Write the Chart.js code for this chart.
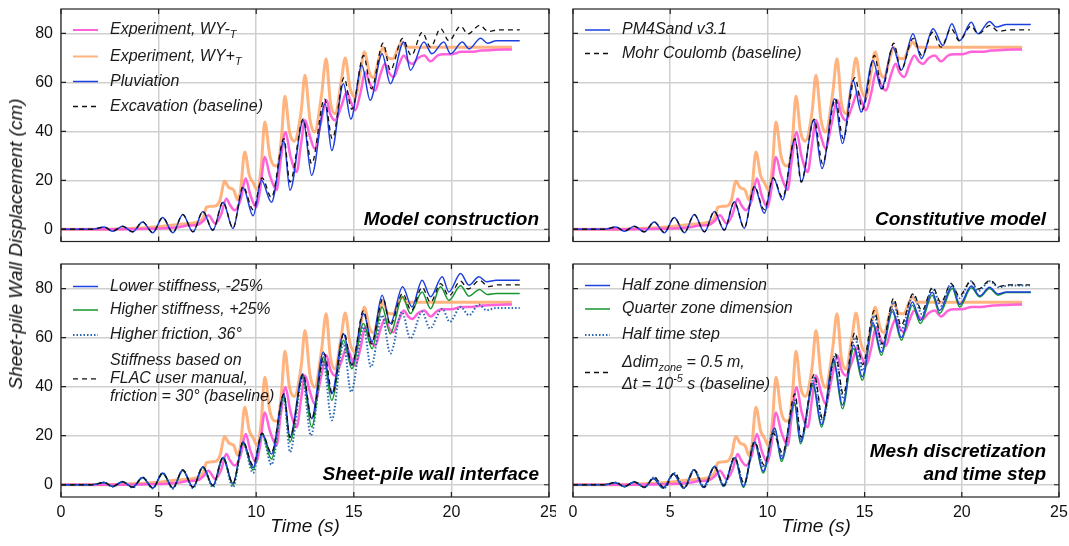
<!DOCTYPE html>
<html>
<head>
<meta charset="utf-8">
<script src="https://cdn.jsdelivr.net/npm/chart.js@4.4.1/dist/chart.umd.min.js"></script>
<style>
  body { margin: 0; background: #fff; width: 1069px; height: 546px; overflow: hidden; position: relative;
         font-family: "Liberation Sans", Arial, sans-serif; }
  canvas { position: absolute; }
  #ytitle { position: absolute; left: 16px; top: 244px; transform: translate(-50%, -50%) rotate(-90deg);
            font-style: italic; font-size: 19px; white-space: nowrap; color: #111; }
</style>
</head>
<body>
<canvas id="c1" width="556" height="250" style="left:0;top:0"></canvas>
<canvas id="c2" width="513" height="250" style="left:556px;top:0"></canvas>
<canvas id="c3" width="556" height="296" style="left:0;top:250px"></canvas>
<canvas id="c4" width="513" height="296" style="left:556px;top:250px"></canvas>
<div id="ytitle">Sheet-pile Wall Displacement (cm)</div>
<script>
// ---- data: [time (s), displacement (cm)] ----
var xTicks = [0, 5, 10, 15, 20, 25];
var yTicks = [0, 20, 40, 60, 80];

// experiments, same in every panel
var expMinus = [[0,0],[3,0],[5,0.3],[6,0.8],[6.5,1.5],[7.0,1.8],[7.3,3.5],[7.56,5.7],[7.9,2.3],[8.2,6],[8.47,12.5],[8.65,10],[8.9,7.8],[9.2,12],[9.46,20.7],[9.7,14],[10.0,9],[10.2,16],[10.44,29.5],[10.7,22],[11.04,16],[11.25,28],[11.5,39.7],[11.75,30],[12.07,23.4],[12.3,35],[12.5,44.5],[12.75,38],[12.99,33],[13.3,43],[13.6,52.7],[13.8,47],[14.04,44.5],[14.35,50],[14.64,56],[14.85,52],[15.07,48.6],[15.35,56],[15.58,64.2],[15.85,59],[16.1,56.7],[16.35,63],[16.6,67.6],[16.8,64],[17.04,62.2],[17.3,67],[17.56,71],[17.8,68.5],[18.0,67.6],[18.3,70],[18.6,71],[18.93,68.6],[19.3,71],[19.6,71.5],[20.0,71.5],[20.5,72.5],[21.0,72.5],[21.5,73],[22.3,73.3],[23.1,73.5]];
var expPlus = [[0,0],[2,0],[4,0.5],[5,1],[6,2],[7,3],[7.3,5],[7.45,9],[7.9,9.5],[8.15,12],[8.38,19.6],[8.6,17],[8.85,16],[9.05,12],[9.2,16],[9.41,31.6],[9.65,22],[9.85,19],[10.05,16],[10.25,25],[10.44,43.8],[10.7,30],[10.95,26],[11.1,26],[11.3,38],[11.47,54.4],[11.7,40],[11.95,36],[12.3,48],[12.5,62.9],[12.75,45],[12.99,39.7],[13.35,55],[13.58,69.7],[13.8,52],[14.04,47.2],[14.35,60],[14.56,70],[14.8,58],[15.07,54],[15.35,65],[15.54,72.4],[15.8,64],[16.0,62],[16.3,70],[16.5,74.4],[16.75,70],[17.0,69.7],[17.3,74.5],[17.47,76.5],[17.7,74.4],[23.1,74.4]];

// baseline model, same in every panel
var baseline = [[0,0],[1.6,0],[2.21,0.9],[2.64,-0.7],[3.16,1.2],[3.67,-1.0],[4.18,3.0],[4.7,-1.3],[5.21,4.8],[5.73,-1.3],[6.24,6.0],[6.76,-1.0],[7.27,7.3],[7.78,-0.3],[8.3,11.2],[8.81,0.5],[9.33,17.5],[9.84,8.0],[10.3,21.0],[10.78,13.0],[11.42,37.0],[11.73,19.3],[12.41,45.0],[12.84,26.8],[13.5,53.3],[13.9,37.0],[14.5,62.0],[14.9,49.0],[15.5,71.0],[15.9,57.4],[16.5,76.0],[16.87,65.0],[17.5,78.0],[17.95,71.0],[18.5,80.5],[18.93,74.4],[19.45,82.0],[19.87,77.0],[20.47,83.0],[20.85,79.8],[21.45,83.3],[21.9,80.8],[22.4,81.5],[23.5,81.5]];

// model construction
var pluviation = [[0,0],[1.6,0],[2.21,0.9],[2.64,-0.8],[3.16,1.2],[3.67,-1.1],[4.18,3.0],[4.7,-1.4],[5.21,4.8],[5.73,-1.4],[6.24,6.0],[6.76,-1.1],[7.27,7.3],[7.78,-0.5],[8.3,11.0],[8.81,0.3],[9.33,17.0],[9.84,5.5],[10.27,20.0],[10.78,11.0],[11.42,36.0],[11.73,15.9],[12.41,44.5],[12.84,22.0],[13.53,51.3],[13.87,32.2],[14.47,59.5],[14.85,45.0],[15.41,67.0],[15.84,52.7],[16.45,71.7],[16.87,59.5],[17.56,76.5],[17.9,65.0],[18.59,76.5],[19.0,71.7],[19.61,76.5],[19.96,71.7],[20.56,76.5],[20.9,73.7],[21.5,78.0],[21.85,76.0],[22.3,77.0],[23.5,77.0]];

// constitutive model
var pm4sand = [[0,0],[1.6,0],[2.21,0.9],[2.64,-0.8],[3.16,1.2],[3.67,-1.1],[4.18,3.0],[4.7,-1.4],[5.21,4.8],[5.73,-1.4],[6.24,6.0],[6.76,-1.1],[7.27,7.3],[7.78,-0.4],[8.3,11.2],[8.81,0.4],[9.33,17.5],[9.84,6.5],[10.3,21.0],[10.78,12.0],[11.42,37.0],[11.75,19.3],[12.38,44.5],[12.81,24.8],[13.46,53.3],[13.86,35.0],[14.41,60.8],[14.83,47.9],[15.43,69.0],[15.86,57.4],[16.46,74.4],[16.89,65.0],[17.49,79.9],[17.92,69.7],[18.52,81.9],[19.03,75.1],[19.49,84.0],[19.89,77.1],[20.49,84.6],[20.83,79.9],[21.43,84.9],[21.77,82.6],[22.3,83.7],[23.55,83.7]];

// sheet-pile wall interface
var lowerStiff = [[0,0],[1.6,0],[2.21,0.9],[2.64,-0.7],[3.16,1.2],[3.67,-1.0],[4.18,3.0],[4.7,-1.3],[5.21,4.8],[5.73,-1.3],[6.24,6.0],[6.76,-1.0],[7.27,7.3],[7.78,-0.3],[8.3,11.2],[8.81,0.5],[9.33,17.5],[9.84,7.0],[10.3,21.0],[10.78,12.5],[11.42,37.0],[11.73,19.5],[12.38,45.3],[12.84,26.9],[13.44,54.1],[13.87,37.1],[14.47,61.6],[14.9,48.7],[15.5,69.8],[15.93,58.2],[16.45,77.3],[16.87,65.7],[17.5,80.7],[17.98,72.5],[18.5,83.4],[18.93,76.6],[19.53,84.8],[19.87,78.6],[20.47,86.1],[20.9,81.4],[21.41,84.8],[21.8,82.8],[22.3,83.4],[23.5,83.4]];
var higherStiff = [[0,0],[1.6,0],[2.21,0.9],[2.64,-0.7],[3.16,1.2],[3.67,-1.0],[4.18,2.8],[4.7,-1.3],[5.21,4.6],[5.73,-1.3],[6.24,5.8],[6.76,-1.0],[7.27,7.0],[7.78,-0.5],[8.3,10.8],[8.81,0.0],[9.33,17.0],[9.84,6.0],[10.3,20.5],[10.78,10.5],[11.42,36.0],[11.73,17.4],[12.38,44.0],[12.84,23.5],[13.44,52.1],[13.87,34.4],[14.47,58.9],[14.9,47.3],[15.5,65.7],[15.93,55.5],[16.45,72.5],[16.87,61.6],[17.5,76.6],[17.9,69.8],[18.5,78.6],[18.93,71.8],[19.44,80.7],[19.87,75.2],[20.47,81.1],[20.9,76.9],[21.44,79.6],[21.84,77.6],[22.3,78.0],[23.5,78.0]];
var higherFric = [[0,0],[1.6,0],[2.21,0.9],[2.64,-0.8],[3.16,1.2],[3.67,-1.2],[4.18,3.0],[4.7,-1.5],[5.21,4.8],[5.73,-1.6],[6.24,6.0],[6.76,-1.4],[7.27,7.2],[7.78,-1.0],[8.3,11.0],[8.81,-1.0],[9.33,17.0],[9.84,4.8],[10.3,20.5],[10.78,8.2],[11.42,35.5],[11.73,13.3],[12.38,43.3],[12.8,20.1],[13.44,50.0],[13.87,26.3],[14.47,57.6],[14.86,37.8],[15.5,64.4],[15.88,48.0],[16.45,69.1],[16.87,53.5],[17.47,70.5],[17.9,59.6],[18.5,70.5],[18.9,63.7],[19.53,71.8],[19.92,66.4],[20.47,72.5],[20.9,69.1],[21.41,73.5],[21.8,71.2],[22.3,72.1],[23.5,72.1]];

// mesh discretization and time step
var halfZone = [[0,0],[1.6,0],[2.16,0.8],[2.64,-0.8],[3.16,1.1],[3.67,-1.1],[4.13,2.5],[4.64,-1.3],[5.16,4.5],[5.7,-1.4],[6.22,6.1],[6.7,-1.0],[7.3,7.5],[7.73,-0.5],[8.33,11.0],[8.76,-0.6],[9.35,17.3],[9.78,5.5],[10.38,23.0],[10.72,10.5],[11.4,33.5],[11.7,17.5],[12.35,41.5],[12.78,24.5],[13.41,51.0],[13.86,32.5],[14.44,57.0],[14.88,44.0],[15.43,66.0],[15.86,54.0],[16.43,71.5],[16.89,60.0],[17.46,74.5],[17.87,67.0],[18.48,78.5],[18.86,71.0],[19.51,81.0],[19.89,73.5],[20.49,81.0],[20.92,77.0],[21.43,80.5],[21.86,77.8],[22.3,78.6],[23.55,78.6]];
var quarterZone = [[0,0],[1.6,0],[2.16,0.8],[2.64,-0.8],[3.16,1.1],[3.67,-1.1],[4.13,2.4],[4.64,-1.4],[5.16,4.4],[5.7,-1.5],[6.22,6.1],[6.7,-1.1],[7.3,7.5],[7.73,-0.7],[8.33,10.9],[8.76,-1.1],[9.35,17.0],[9.78,4.8],[10.38,23.0],[10.72,9.5],[11.4,32.7],[11.7,16.7],[12.35,40.5],[12.78,23.5],[13.41,50.0],[13.86,31.0],[14.44,55.5],[14.88,42.6],[15.43,65.0],[15.86,52.8],[16.43,70.5],[16.89,58.9],[17.46,73.2],[17.87,65.7],[18.48,77.3],[18.86,69.8],[19.51,80.0],[19.89,72.5],[20.49,80.3],[20.92,76.6],[21.43,80.0],[21.86,77.3],[22.3,78.4],[23.55,78.4]];
var halfStep = [[0,0],[1.6,0],[2.21,0.9],[2.64,-0.7],[3.16,1.2],[3.67,-1.0],[4.18,3.0],[4.7,-1.3],[5.21,4.8],[5.73,-1.3],[6.24,6.0],[6.76,-1.0],[7.27,7.3],[7.78,-0.4],[8.3,11.2],[8.81,0.2],[9.33,17.5],[9.84,7.0],[10.3,22.0],[10.78,11.5],[11.42,35.0],[11.73,18.0],[12.41,43.5],[12.84,25.5],[13.5,53.0],[13.9,35.0],[14.5,60.0],[14.9,46.5],[15.5,69.0],[15.9,56.0],[16.5,74.5],[16.87,63.0],[17.5,77.5],[17.95,69.5],[18.5,80.0],[18.93,73.0],[19.45,82.0],[19.87,76.0],[20.47,83.0],[20.85,79.0],[21.45,83.0],[21.9,80.5],[22.4,81.2],[23.5,81.2]];

// ---- styles ----
var FONT = '"Liberation Sans", Arial, sans-serif';
var ST = {
  minus:  { color: 'rgba(255,90,215,0.95)', width: 2.5, dash: [] },
  plus:   { color: 'rgba(255,160,95,0.8)', width: 3,   dash: [] },
  blue:   { color: '#1c3fe0', width: 1.5, dash: [] },
  green:  { color: '#15962f', width: 1.5, dash: [] },
  dotted: { color: '#2866b4', width: 2,   dash: [1.5, 2] },
  dashed: { color: '#111111', width: 1.3, dash: [5, 4] }
};

function line(pts, st) {
  return {
    data: pts.map(function (p) { return { x: p[0], y: p[1] }; }),
    borderColor: st.color, borderWidth: st.width, borderDash: st.dash,
    pointRadius: 0, fill: false, cubicInterpolationMode: 'monotone'
  };
}

function drawRich(ctx, x, y, parts, size) {
  parts.forEach(function (p) {
    var txt = p[0], kind = p[1];
    var fs = kind ? size * 0.68 : size;
    ctx.font = 'italic ' + fs + 'px ' + FONT;
    var dy = kind === 'sub' ? size * 0.32 : (kind === 'sup' ? -size * 0.36 : 0);
    ctx.fillText(txt, x, y + dy);
    x += ctx.measureText(txt).width;
  });
}

// frame, inward ticks, legend and panel label
var framePlugin = {
  id: 'frame',
  afterDatasetsDraw: function (chart, args, opts) {
    var ctx = chart.ctx, a = chart.chartArea, sx = chart.scales.x, sy = chart.scales.y;
    ctx.save();
    ctx.strokeStyle = '#222'; ctx.lineWidth = 1.2; ctx.setLineDash([]);
    ctx.strokeRect(a.left, a.top, a.right - a.left, a.bottom - a.top);
    ctx.beginPath();
    xTicks.forEach(function (v) {
      var px = sx.getPixelForValue(v);
      ctx.moveTo(px, a.top); ctx.lineTo(px, a.top + 5);
      ctx.moveTo(px, a.bottom); ctx.lineTo(px, a.bottom - 5);
    });
    yTicks.forEach(function (v) {
      var py = sy.getPixelForValue(v);
      ctx.moveTo(a.left, py); ctx.lineTo(a.left + 5, py);
      ctx.moveTo(a.right, py); ctx.lineTo(a.right - 5, py);
    });
    ctx.stroke();

    // legend
    ctx.textBaseline = 'middle'; ctx.textAlign = 'left'; ctx.fillStyle = '#1a1a1a';
    opts.legend.forEach(function (e) {
      var st = ST[e.st];
      var lh = e.lh || 0;
      var my = a.top + (e.markY !== undefined ? e.markY : e.y + (e.mark || 0) * lh);
      ctx.strokeStyle = st.color; ctx.lineWidth = Math.min(st.width, 2); ctx.setLineDash(st.dash);
      ctx.beginPath(); ctx.moveTo(a.left + 12, my); ctx.lineTo(a.left + 37, my); ctx.stroke();
      e.lines.forEach(function (parts, i) {
        drawRich(ctx, a.left + 49, a.top + e.y + i * lh, parts, 16);
      });
    });

    // panel label
    ctx.fillStyle = '#000'; ctx.textAlign = 'right'; ctx.textBaseline = 'alphabetic';
    ctx.font = 'italic bold 19px ' + FONT;
    var n = opts.label.length;
    opts.label.forEach(function (t, i) {
      ctx.fillText(t, a.right - opts.inset, a.bottom - 17 - (n - 1 - i) * 23);
    });
    ctx.restore();
  }
};

function noPad(s) { s.paddingLeft = 0; s.paddingRight = 0; s.paddingTop = 0; s.paddingBottom = 0; }

function makeChart(id, datasets, cfg) {
  return new Chart(document.getElementById(id), {
    type: 'line',
    data: { datasets: datasets },
    options: {
      responsive: false, animation: false, events: [],
      layout: { padding: { top: cfg.top, right: cfg.right, left: 0, bottom: 0 } },
      plugins: {
        legend: { display: false }, tooltip: { enabled: false },
        frame: { legend: cfg.legend, label: cfg.label, inset: cfg.inset }
      },
      scales: {
        x: {
          type: 'linear', min: 0, max: 25,
          afterBuildTicks: function (s) { s.ticks = xTicks.map(function (v) { return { value: v }; }); },
          afterFit: function (s) { s.height = cfg.xh; noPad(s); },
          grid: { color: '#cfcfcf', lineWidth: 1.5, drawTicks: false },
          border: { display: false },
          ticks: { display: cfg.xLabels, padding: 6, color: '#111', font: { family: FONT, size: 16 }, maxRotation: 0 },
          title: { display: cfg.xLabels, text: 'Time (s)', color: '#111',
                   font: { family: FONT, size: 19, style: 'italic' }, padding: { top: 0, bottom: 8 } }
        },
        y: {
          min: -5, max: 90,
          afterBuildTicks: function (s) { s.ticks = yTicks.map(function (v) { return { value: v }; }); },
          afterFit: function (s) { s.width = cfg.yw; noPad(s); },
          grid: { color: '#cfcfcf', lineWidth: 1.5, drawTicks: false },
          border: { display: false },
          ticks: { display: cfg.yLabels, padding: 8, color: '#111', font: { family: FONT, size: 16 } }
        }
      }
    },
    plugins: [framePlugin]
  });
}

var expSets = function () { return [line(expMinus, ST.minus), line(expPlus, ST.plus)]; };

makeChart('c1', [line(baseline, ST.dashed), line(pluviation, ST.blue)].concat(expSets()), {
  top: 9, right: 7, xh: 8.5, yw: 61, xLabels: false, yLabels: true, inset: 10,
  label: ['Model construction'],
  legend: [
    { st: 'minus', y: 21, lines: [[['Experiment, WY-', ''], ['T', 'sub']]] },
    { st: 'plus', y: 47.5, lines: [[['Experiment, WY+', ''], ['T', 'sub']]] },
    { st: 'blue', y: 72.5, lines: [[['Pluviation', '']]] },
    { st: 'dashed', y: 97.5, lines: [[['Excavation (baseline)', '']]] }
  ]
});

makeChart('c2', [line(baseline, ST.dashed), line(pm4sand, ST.blue)].concat(expSets()), {
  top: 9, right: 10, xh: 8.5, yw: 17, xLabels: false, yLabels: false, inset: 13,
  label: ['Constitutive model'],
  legend: [
    { st: 'blue', y: 21, lines: [[['PM4Sand v3.1', '']]] },
    { st: 'dashed', y: 44.5, lines: [[['Mohr Coulomb (baseline)', '']]] }
  ]
});

makeChart('c3', [line(baseline, ST.dashed), line(lowerStiff, ST.blue), line(higherStiff, ST.green), line(higherFric, ST.dotted)].concat(expSets()), {
  top: 14, right: 7, xh: 49, yw: 61, xLabels: true, yLabels: true, inset: 10,
  label: ['Sheet-pile wall interface'],
  legend: [
    { st: 'blue', y: 22.5, lines: [[['Lower stiffness, -25%', '']]] },
    { st: 'green', y: 46, lines: [[['Higher stiffness, +25%', '']]] },
    { st: 'dotted', y: 71, lines: [[['Higher friction, 36°', '']]] },
    { st: 'dashed', y: 97, lh: 17.8, mark: 1, lines: [
      [['Stiffness based on', '']],
      [['FLAC user manual,', '']],
      [['friction = 30° (baseline)', '']]
    ] }
  ]
});

makeChart('c4', [line(baseline, ST.dashed), line(halfStep, ST.dotted), line(halfZone, ST.blue), line(quarterZone, ST.green)].concat(expSets()), {
  top: 14, right: 10, xh: 49, yw: 17, xLabels: true, yLabels: false, inset: 13,
  label: ['Mesh discretization', 'and time step'],
  legend: [
    { st: 'blue', y: 21.5, lines: [[['Half zone dimension', '']]] },
    { st: 'green', y: 45, lines: [[['Quarter zone dimension', '']]] },
    { st: 'dotted', y: 71, lines: [[['Half time step', '']]] },
    { st: 'dashed', y: 98.5, lh: 22.5, markY: 108.5, lines: [
      [['Δdim', ''], ['zone', 'sub'], [' = 0.5 m,', '']],
      [['Δt = 10', ''], ['-5', 'sup'], [' s (baseline)', '']]
    ] }
  ]
});
</script>
</body>
</html>
